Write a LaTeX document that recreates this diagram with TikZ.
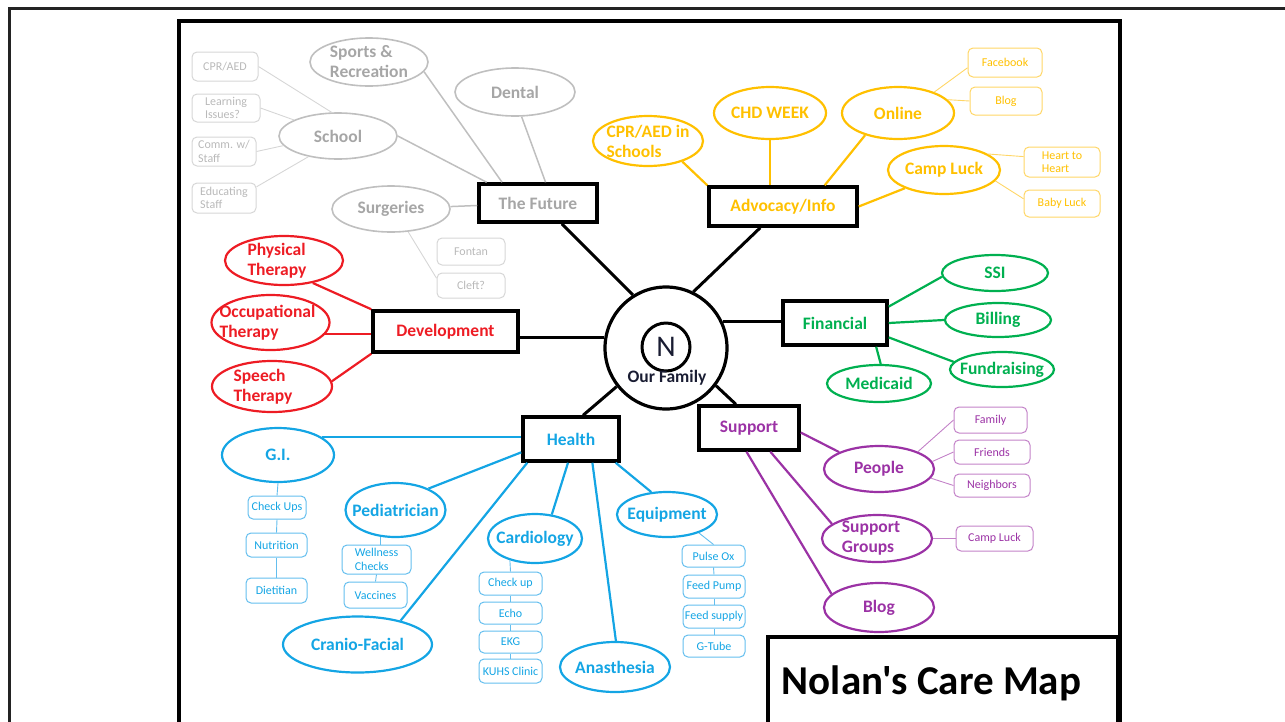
\documentclass[tikz,border=0pt]{standalone}
\usepackage{fontspec}
\setmainfont{Carlito}
\newfontfamily\ttlfont{Carlito}
\usetikzlibrary{shapes.geometric}
\definecolor{cGln}{RGB}{191,191,191}
\definecolor{cGtx}{RGB}{166,166,166}
\definecolor{cGsm}{RGB}{214,214,214}
\definecolor{cGst}{RGB}{185,185,185}
\definecolor{cYel}{RGB}{255,192,0}
\definecolor{cYsm}{RGB}{255,214,102}
\definecolor{cGrn}{RGB}{0,176,80}
\definecolor{cRed}{RGB}{237,28,36}
\definecolor{cPur}{RGB}{155,50,165}
\definecolor{cPsm}{RGB}{195,130,200}
\definecolor{cBlu}{RGB}{20,165,228}
\definecolor{cBsm}{RGB}{100,190,238}
\definecolor{cNavy}{RGB}{25,28,50}
\newcommand{\bigf}{\fontsize{17.5}{20}\selectfont\bfseries}
\newcommand{\smf}{\fontsize{12}{13.5}\selectfont}
\tikzset{
  ov/.style 2 args={ellipse, minimum width=#1, minimum height=#2, inner sep=0pt, line width=2.2pt},
  gov/.style 2 args={ov={#1}{#2}, draw=cGln, line width=1.6pt},
  yov/.style 2 args={ov={#1}{#2}, draw=cYel},
  nov/.style 2 args={ov={#1}{#2}, draw=cGrn},
  rov/.style 2 args={ov={#1}{#2}, draw=cRed},
  pov/.style 2 args={ov={#1}{#2}, draw=cPur},
  bov/.style 2 args={ov={#1}{#2}, draw=cBlu},
  lab/.style={font=\bigf, align=left, inner sep=0pt},
  glab/.style={lab, text=cGtx},
  ylab/.style={lab, text=cYel},
  nlab/.style={lab, text=cGrn},
  rlab/.style={lab, text=cRed},
  plab/.style={lab, text=cPur},
  blab/.style={lab, text=cBlu},
  hub/.style 2 args={draw=black, line width=3.5pt, inner sep=0pt, font=\bigf, minimum width=#1, minimum height=#2},
  sm/.style 2 args={draw, rounded corners=5pt, line width=1pt, inner sep=0pt, font=\smf, align=left, minimum width=#1, minimum height=#2},
  gsm/.style 2 args={sm={#1}{#2}, draw=cGsm, text=cGst},
  ysm/.style 2 args={sm={#1}{#2}, draw=cYsm, text=cYel},
  psm/.style 2 args={sm={#1}{#2}, draw=cPsm, text=cPur},
  bsm/.style 2 args={sm={#1}{#2}, draw=cBsm, text=cBlu},
  kcon/.style={draw=black, line width=3pt},
  gcon/.style={draw=cGln, line width=1.5pt},
  gthin/.style={draw=cGsm, line width=0.9pt},
  ycon/.style={draw=cYel, line width=2.2pt},
  ythin/.style={draw=cYsm, line width=0.9pt},
  ncon/.style={draw=cGrn, line width=2.2pt},
  rcon/.style={draw=cRed, line width=2.2pt},
  pcon/.style={draw=cPur, line width=2.2pt},
  pthin/.style={draw=cPsm, line width=0.9pt},
  bcon/.style={draw=cBlu, line width=2.2pt},
  bthin/.style={draw=cBsm, line width=0.9pt},
}
\begin{document}
\begin{tikzpicture}[x=1pt,y=-1pt]
\useasboundingbox (0,0) rectangle (1285,721);
% frames
\draw[line width=2.5pt, draw={rgb,255:red,35;green,35;blue,35}] (9.5,740) -- (9.5,8.5) -- (1300,8.5);
\draw[line width=4.5pt] (179,21) rectangle (1120,745);
\draw[line width=4pt] (768,637) rectangle (1118,745);
\node[font=\ttlfont\fontsize{41}{41}\selectfont\bfseries, inner sep=0pt] (ttl) at (931.5,683) {Nolan's Care Map};

% centre
\node[circle, draw, line width=3.2pt, minimum size=122, inner sep=0pt] (cen) at (666,348) {};
\node[circle, draw, line width=3pt, minimum size=48, inner sep=0pt, text=cNavy, font=\fontsize{30}{30}\selectfont] (nn) at (666,347) {N};
\node[font=\bigf, text=cNavy, inner sep=0pt] (ourf) at (667,378) {Our Family};

% hubs
\node[hub={118}{38}, text=cGtx] (fut) at (538,203) {The Future};
\node[hub={148}{39}, text=cYel] (adv) at (783,206.5) {Advocacy/Info};
\node[hub={104}{44}, text=cGrn] (fin) at (835,323) {Financial};
\node[hub={145}{41}, text=cRed] (dev) at (445.5,331.5) {Development};
\node[hub={96}{44}, text=cBlu] (hea) at (571,439) {Health};
\node[hub={100}{44}, text=cPur] (sup) at (749,428) {Support};

% gray
\node[gov={118}{48}, label={[glab]center:Sports \&\\Recreation}] (spo) at (369,62) {};
\node[gov={120}{48}, label={[glab]center:Dental}] (den) at (515,92) {};
\node[gov={118}{46}, label={[glab]center:School}] (sch) at (338,136) {};
\node[gov={118}{46}, label={[glab]center:Surgeries}] (sur) at (391,209) {};
\node[gsm={66}{29}] (cpra) at (225,66.5) {CPR/AED};
\node[gsm={68}{28}] (lea) at (226,108) {Learning\\Issues?};
\node[gsm={64}{29}] (com) at (224,151.5) {Comm. w/\\Staff};
\node[gsm={64}{30}] (edu) at (224,198) {Educating\\Staff};
\node[gsm={68}{27}] (fon) at (471,251.5) {Fontan};
\node[gsm={68}{25}] (cle) at (471,285.5) {Cleft?};

% yellow
\node[yov={110}{50}, label={[ylab]center:CPR/AED in\\Schools}] (cpr) at (648,141) {};
\node[yov={112}{52}, label={[ylab]center:CHD WEEK}] (chd) at (770,113) {};
\node[yov={112}{52}, label={[ylab]center:Online}] (onl) at (898,113) {};
\node[yov={112}{48}, label={[ylab]center:Camp Luck}] (cam) at (944,170) {};
\node[ysm={74}{29}] (fb) at (1005,62.5) {Facebook};
\node[ysm={72}{28}] (blg) at (1006,101) {Blog};
\node[ysm={76}{30}] (hth) at (1062,162) {Heart to\\Heart};
\node[ysm={76}{27}] (bab) at (1062,203.5) {Baby Luck};

% green
\node[nov={106}{36}, label={[nlab]center:SSI}] (ssi) at (995,273) {};
\node[nov={106}{34}, label={[nlab]center:Billing}] (bil) at (998,320) {};
\node[nov={104}{35}, label={[nlab]center:Fundraising}] (fun) at (1002,369.5) {};
\node[nov={104}{37}, label={[nlab]center:Medicaid}] (med) at (879,383.5) {};

% red
\node[rov={118}{49}, label={[rlab,xshift=-7pt]center:Physical\\Therapy}] (pt) at (284,260.5) {};
\node[rov={118}{55}, label={[rlab,xshift=-3pt]center:Occupational\\Therapy}] (ot) at (270.5,322.5) {};
\node[rov={120}{51}, label={[rlab,xshift=-9pt]center:Speech\\Therapy}] (st) at (272,386.5) {};

% purple
\node[pov={110}{46}, label={[plab]center:People}] (peo) at (879,469) {};
\node[pov={110}{47}, label={[plab,xshift=-6pt]center:Support\\Groups}] (grp) at (877,538.5) {};
\node[pov={110}{49}, label={[plab]center:Blog}] (pbl) at (879,607.5) {};
\node[psm={73}{26}] (fam) at (990.5,420) {Family};
\node[psm={76}{24}] (fri) at (992,452) {Friends};
\node[psm={76}{23}] (nei) at (992,485.5) {Neighbors};
\node[psm={77}{25}] (pcl) at (994.5,538.5) {Camp Luck};

% blue
\node[bov={112}{54}, label={[blab]center:G.I.}] (gi) at (278,455) {};
\node[bov={100}{54}, label={[blab]center:Pediatrician}] (ped) at (395.5,510) {};
\node[bov={149}{56}, label={[blab]center:Cranio-Facial}] (crn) at (357.5,644.5) {};
\node[bov={94}{49}, label={[blab]center:Cardiology}] (crd) at (535,538.5) {};
\node[bov={110}{50}, label={[blab]center:Anasthesia}] (ana) at (615,667) {};
\node[bov={100}{45}, label={[blab]center:Equipment}] (eqp) at (667,514.5) {};
\node[bsm={58}{23}] (cku) at (277,507.5) {Check Ups};
\node[bsm={61}{24}] (nut) at (276.5,545) {Nutrition};
\node[bsm={61}{25}] (die) at (276.5,590.5) {Dietitian};
\node[bsm={69}{29}] (wel) at (376.5,559.5) {Wellness\\Checks};
\node[bsm={63}{26}] (vac) at (375.5,595) {Vaccines};
\node[bsm={63}{23}] (ck2) at (510.5,583.5) {Check up};
\node[bsm={63}{22}] (ech) at (510.5,613) {Echo};
\node[bsm={63}{22}] (ekg) at (510.5,642) {EKG};
\node[bsm={63}{24}] (kuh) at (510.5,671) {KUHS Clinic};
\node[bsm={63}{22}] (pul) at (713.5,556) {Pulse Ox};
\node[bsm={62}{23}] (fpu) at (714,586.5) {Feed Pump};
\node[bsm={62}{23}] (fsu) at (714,616.5) {Feed supply};
\node[bsm={62}{22}] (gtu) at (714,646) {G-Tube};

% connectors: black
\draw[kcon] (cen.122) -- (fut.-41);
\draw[kcon] (cen.64) -- (adv.223);
\draw[kcon] (cen.25) -- (cen.25 -| fin.west);
\draw[kcon] (cen.170) -- (cen.170 -| dev.east);
\draw[kcon] (cen.218) -- (hea.63);
\draw[kcon] (cen.-37) -- (sup.119);
% gray
\draw[gcon] (spo.-10) -- (fut.150);
\draw[gcon] (den.-75) -- (fut.70);
\draw[gcon] (sch.east) -- (fut.158);
\draw[gcon] (sur) -- (fut);
\draw[gthin] (sur.-53) -- (cle.168);
\draw[gthin] (cpra.east) -- (sch.105);
\draw[gthin] (lea.east) -- (sch.160);
\draw[gthin] (com.east) -- (sch.190);
\draw[gthin] (edu.19) -- (sch.215);
% yellow
\draw[ycon] (cpr.-31) -- (adv.north west);
\draw[ycon] (chd.south) -- (chd.south |- adv.north);
\draw[ycon] (onl.214) -- (adv.27);
\draw[ycon] (cam.205) -- (adv.east);
\draw[ythin] (onl.30) -- (fb.188);
\draw[ythin] (onl.15) -- (blg.west);
\draw[ythin] (cam.20) -- (hth.172);
\draw[ythin] (cam.-12) -- (bab.173);
% green
\draw[ncon] (fin.17) -- (ssi.184);
\draw[ncon] (fin.east) -- (bil.west);
\draw[ncon] (fin.-15) -- (fun.171);
\draw[ncon] (fin.-30) -- (med.85);
% red
\draw[rcon] (pt.-38) -- (dev.north west);
\draw[rcon] (ot.-12) -- (ot.-12 -| dev.west);
\draw[rcon] (st.5) -- (dev.south west);
% purple
\draw[pcon] (sup.-5) -- (peo.157);
\draw[pcon] (sup.-48) -- (grp.162);
\draw[pcon] (sup.-96) -- (pbl.164);
\draw[pthin] (peo.24) -- (fam.west);
\draw[pthin] (peo.8) -- (fri.west);
\draw[pthin] (peo.-10) -- (nei.west);
\draw[pthin] (grp.east) -- (pcl.west);
% blue
\draw[bcon] (gi.22) -- (gi.22 -| hea.west);
\draw[bcon] (ped.33) -- (hea.195);
\draw[bcon] (crn.29) -- ([xshift=6pt]hea.south west);
\draw[bcon] ([xshift=-3pt]hea.south) -- (crd.55);
\draw[bcon] (hea.-48) -- (ana.88);
\draw[bcon] (hea.-28) -- (eqp.125);
\draw[bthin] (gi.south) -- (cku.north);
\draw[bthin] (cku.south) -- (nut.north);
\draw[bthin] (nut.south) -- (die.north);
\draw[bthin] (ped.240) -- (ped.240 |- wel.north);
\draw[bthin] (wel.south) -- (vac.north);
\draw[bthin] (crd.221) -- (ck2.north);
\draw[bthin] (ck2.south) -- (ech.north);
\draw[bthin] (ech.south) -- (ekg.north);
\draw[bthin] (ekg.south) -- (kuh.north);
\draw[bthin] (eqp.-30) -- (pul.north);
\draw[bthin] (pul.south) -- (fpu.north);
\draw[bthin] (fpu.south) -- (fsu.north);
\draw[bthin] (fsu.south) -- (gtu.north);
\end{tikzpicture}
\end{document}
